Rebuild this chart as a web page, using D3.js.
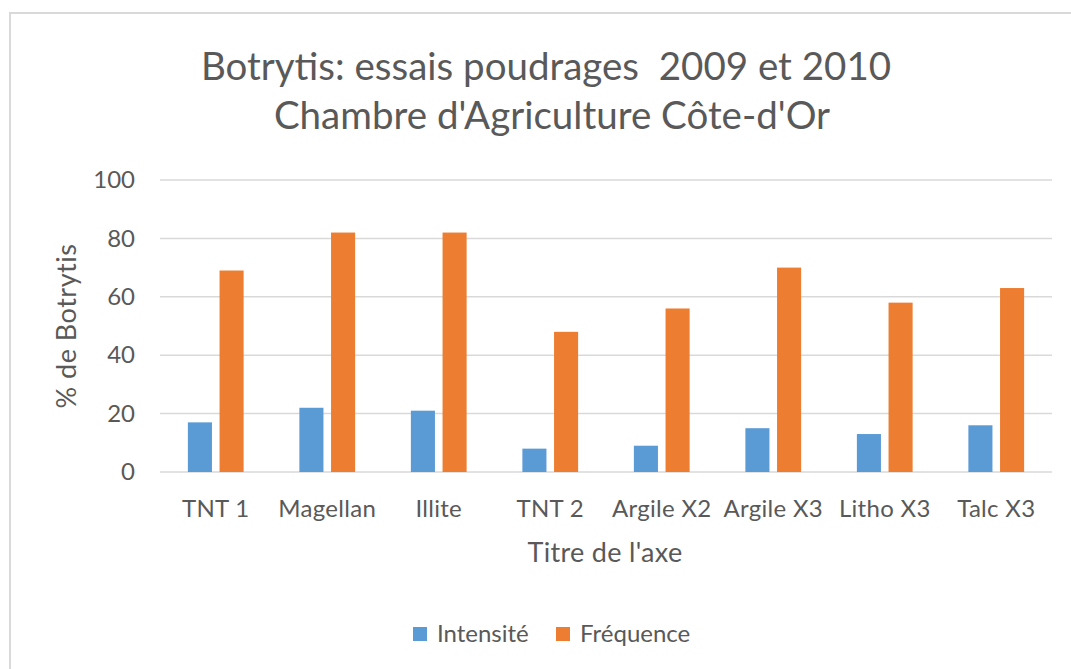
<!DOCTYPE html>
<html lang="fr">
<head>
<meta charset="UTF-8">
<title>Botrytis: essais poudrages</title>
<script src="https://d3js.org/d3.v7.min.js"></script>
<style>
  body { margin: 0; background: #fff; }
  text { font-family: Lato, "Open Sans", sans-serif; fill: #595959; }
</style>
</head>
<body>
<div id="chart"></div>
<script>
// data
var categories = ["TNT 1", "Magellan", "Illite", "TNT 2", "Argile X2", "Argile X3", "Litho X3", "Talc X3"];
var seriesNames = ["Intensité", "Fréquence"];
var intensite = [17, 22, 21, 8, 9, 15, 13, 16];
var frequence = [69, 82, 82, 48, 56, 70, 58, 63];
var yTicks = [0, 20, 40, 60, 80, 100];
var colors = ["#5B9BD5", "#ED7D31"];

var W = 1071, H = 669;
var plot = {left: 160, right: 1052, top: 180, bottom: 472};

var svg = d3.select("#chart").append("svg")
    .attr("width", W)
    .attr("height", H);

// chart frame
svg.append("rect")
    .attr("x", 10).attr("y", 13)
    .attr("width", W + 20).attr("height", H + 20)
    .attr("fill", "#fff")
    .attr("stroke", "#d9d9d9")
    .attr("stroke-width", 2);

var x0 = d3.scaleBand().domain(categories)
    .range([plot.left, plot.right])
    .paddingInner(0.5).paddingOuter(0.25);
var x1 = d3.scaleBand().domain(seriesNames)
    .range([0, x0.bandwidth()])
    .paddingInner(0.24);
var y = d3.scaleLinear().domain([0, 100]).range([plot.bottom, plot.top]);

// gridlines
svg.append("g").selectAll("line")
    .data(yTicks).enter()
    .append("line")
    .attr("x1", plot.left).attr("x2", plot.right)
    .attr("y1", function(d) { return y(d); })
    .attr("y2", function(d) { return y(d); })
    .attr("stroke", "#d9d9d9")
    .attr("stroke-width", 1.5);

// y axis labels
var yAxis = svg.append("g")
    .attr("transform", "translate(" + (plot.left - 25) + ",0)")
    .call(d3.axisLeft(y).tickValues(yTicks).tickSize(0).tickPadding(0));
yAxis.select(".domain").remove();
yAxis.selectAll("text")
    .style("font-size", "24px")
    .style("font-family", "Lato, sans-serif")
    .attr("fill", "#595959");

// bars
var rows = categories.map(function(c, i) {
    return {cat: c, values: [intensite[i], frequence[i]]};
});
var groups = svg.append("g").selectAll("g")
    .data(rows).enter()
    .append("g")
    .attr("transform", function(d) { return "translate(" + x0(d.cat) + ",0)"; });
groups.selectAll("rect")
    .data(function(d) { return d.values.map(function(v, k) { return {name: seriesNames[k], value: v, k: k}; }); })
    .enter()
    .append("rect")
    .attr("x", function(d) { return x1(d.name); })
    .attr("y", function(d) { return y(d.value); })
    .attr("width", x1.bandwidth())
    .attr("height", function(d) { return y(0) - y(d.value); })
    .attr("fill", function(d) { return colors[d.k]; });

// x axis labels
var xAxis = svg.append("g")
    .attr("transform", "translate(0," + (plot.bottom + 28) + ")")
    .call(d3.axisBottom(x0).tickSize(0).tickPadding(0));
xAxis.select(".domain").remove();
xAxis.selectAll("text")
    .attr("dy", "0.71em")
    .style("font-size", "24px")
    .style("letter-spacing", "0.3px")
    .style("font-family", "Lato, sans-serif")
    .attr("fill", "#595959");

// titles
svg.append("text")
    .attr("x", 546).attr("y", 80)
    .attr("text-anchor", "middle")
    .style("font-size", "38.5px")
    .text("Botrytis: essais poudrages\u00a0\u00a02009 et 2010");
svg.append("text")
    .attr("x", 552).attr("y", 129)
    .attr("text-anchor", "middle")
    .style("font-size", "38.5px")
    .text("Chambre d'Agriculture Côte-d'Or");

svg.append("text")
    .attr("transform", "translate(76," + ((plot.top + plot.bottom) / 2 + 0) + ") rotate(-90)")
    .attr("text-anchor", "middle")
    .style("font-size", "27px")
    .style("letter-spacing", "0.5px")
    .text("% de Botrytis");

svg.append("text")
    .attr("x", 605)
    .attr("y", 562)
    .attr("text-anchor", "middle")
    .style("font-size", "27px")
    .style("letter-spacing", "0.3px")
    .text("Titre de l'axe");

// legend
var legend = svg.append("g").attr("transform", "translate(413,627)");
var legX = [0, 143];
seriesNames.forEach(function(n, k) {
    legend.append("rect")
        .attr("x", legX[k]).attr("y", 0)
        .attr("width", 14).attr("height", 14)
        .attr("fill", colors[k]);
    legend.append("text")
        .attr("x", legX[k] + 24).attr("y", 15)
        .style("font-size", "24px")
        .text(n);
});
</script>
</body>
</html>
